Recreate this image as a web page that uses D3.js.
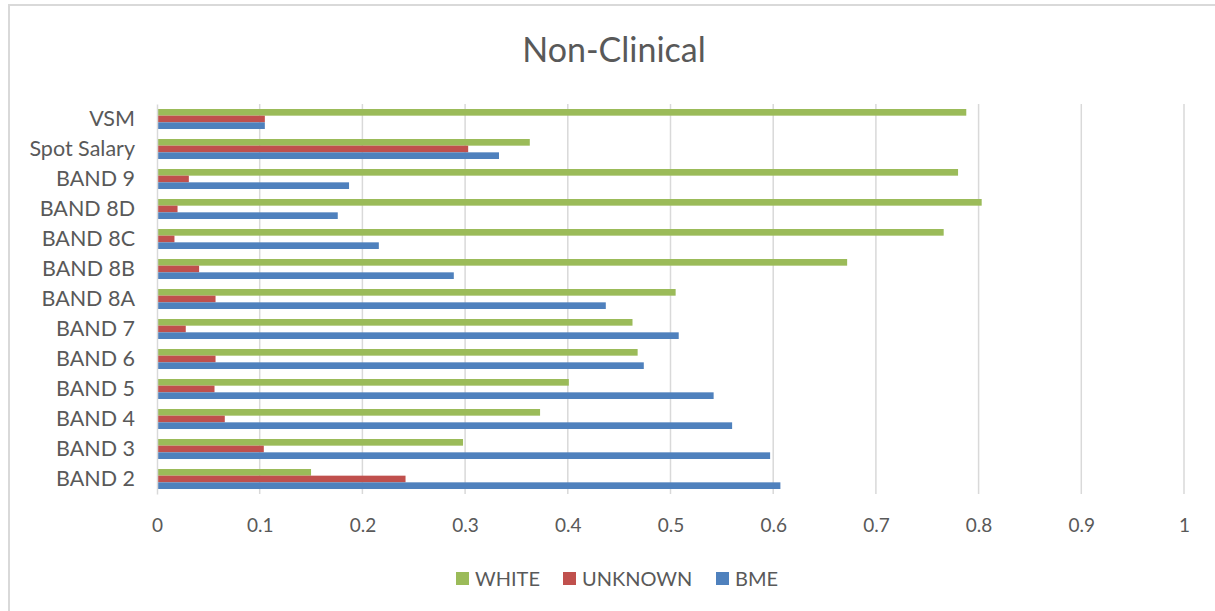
<!DOCTYPE html>
<html>
<head>
<meta charset="utf-8">
<style>
  body { margin: 0; background: #fff; font-family: Lato, "Open Sans", sans-serif; }
  svg text { fill: #595959; }
</style>
<title>Non-Clinical</title>
</head>
<body>
<div id="chart"></div>
<script src="https://cdn.jsdelivr.net/npm/d3@7/dist/d3.min.js"></script>
<script>

// data
var categories = ["VSM", "Spot Salary", "BAND 9", "BAND 8D", "BAND 8C", "BAND 8B", "BAND 8A",
                  "BAND 7", "BAND 6", "BAND 5", "BAND 4", "BAND 3", "BAND 2"];
var seriesNames = ["WHITE", "UNKNOWN", "BME"];
var seriesColors = ["#9BBB59", "#C0504D", "#4F81BD"];
var white   = [0.788, 0.363, 0.780, 0.803, 0.766, 0.672, 0.505, 0.463, 0.468, 0.401, 0.373, 0.298, 0.150];
var unknown = [0.105, 0.303, 0.031, 0.020, 0.017, 0.041, 0.057, 0.028, 0.057, 0.056, 0.066, 0.104, 0.242];
var bme     = [0.105, 0.333, 0.187, 0.176, 0.216, 0.289, 0.437, 0.508, 0.474, 0.542, 0.560, 0.597, 0.607];
var xTicks  = [0, 0.1, 0.2, 0.3, 0.4, 0.5, 0.6, 0.7, 0.8, 0.9, 1];

var W = 1215, H = 611;
var plot = {left: 157, right: 1184, top: 104, bottom: 494};

var svg = d3.select("#chart").append("svg")
    .attr("width", W)
    .attr("height", H);

// chart area border
svg.append("rect")
    .attr("x", 9).attr("y", 5)
    .attr("width", W).attr("height", H)
    .attr("fill", "none")
    .attr("stroke", "#d9d9d9")
    .attr("stroke-width", 2);

svg.append("text")
    .attr("x", 614).attr("y", 62)
    .attr("text-anchor", "middle")
    .style("font-size", "34px")
    .text("Non-Clinical");

var x = d3.scaleLinear().domain([0, 1]).range([plot.left, plot.right]);
var y = d3.scaleBand().domain(categories).range([plot.top, plot.bottom])
    .paddingInner(1/3).paddingOuter(1/6);
var yInner = d3.scaleBand().domain(seriesNames).range([0, y.bandwidth()]);

// gridlines
svg.append("g").selectAll("line")
    .data(xTicks.slice(1))
    .enter().append("line")
    .attr("x1", d => x(d)).attr("x2", d => x(d))
    .attr("y1", plot.top).attr("y2", plot.bottom)
    .attr("stroke", "#d9d9d9")
    .attr("stroke-width", 1.5);

// x axis labels
var xAxis = d3.axisBottom(x).tickValues(xTicks).tickSize(0).tickPadding(0)
    .tickFormat(d => d3.format("")(d));
var gx = svg.append("g")
    .attr("transform", "translate(0," + (plot.bottom + 38) + ")")
    .call(xAxis);
gx.select(".domain").remove();
gx.selectAll("text")
    .attr("dy", 0)
    .style("font-size", "19px")
    .style("font-family", "Lato, sans-serif")
    .attr("fill", "#595959");

// bars
var rows = categories.map((c, i) => ({
    cat: c,
    vals: [white[i], unknown[i], bme[i]]
}));

var groups = svg.append("g").selectAll("g")
    .data(rows)
    .enter().append("g")
    .attr("transform", d => "translate(0," + y(d.cat) + ")");

groups.selectAll("rect")
    .data(d => d.vals.map((v, j) => ({name: seriesNames[j], value: v, color: seriesColors[j]})))
    .enter().append("rect")
    .attr("x", x(0))
    .attr("y", d => yInner(d.name))
    .attr("width", d => x(d.value) - x(0))
    .attr("height", yInner.bandwidth())
    .attr("fill", d => d.color);

// category axis
var yAxis = d3.axisLeft(y).tickSize(0).tickPadding(22);
var gy = svg.append("g")
    .attr("transform", "translate(" + plot.left + ",0)")
    .call(yAxis);
gy.select(".domain")
    .attr("stroke", "#d9d9d9")
    .attr("stroke-width", 1.5);
gy.selectAll("text")
    .style("font-size", "21.5px")
    .style("font-family", "Lato, sans-serif")
    .attr("fill", "#595959");

// legend
var legendX = [456, 563, 716];
var legend = svg.append("g").selectAll("g")
    .data(seriesNames)
    .enter().append("g")
    .attr("transform", (d, i) => "translate(" + legendX[i] + ",572)");
legend.append("rect")
    .attr("width", 13).attr("height", 13)
    .attr("fill", (d, i) => seriesColors[i]);
legend.append("text")
    .attr("x", 19).attr("y", 14)
    .style("font-size", "20px")
    .text(d => d);

</script>
</body>
</html>
